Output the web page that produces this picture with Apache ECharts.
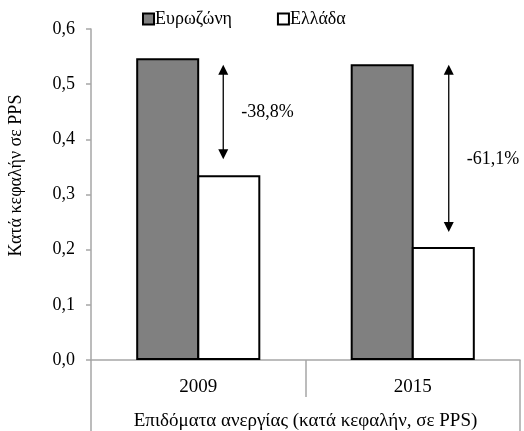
<!DOCTYPE html>
<html>
<head>
<meta charset="utf-8">
<script src="https://cdn.jsdelivr.net/npm/echarts@6/dist/echarts.min.js"></script>
<style>
html,body{margin:0;padding:0;background:#fff;}
#chart{width:524px;height:431px;}
</style>
</head>
<body>
<div id="chart"></div>
<script>
var years = ['2009', '2015'];
var seriesNames = ['Ευρωζώνη', 'Ελλάδα'];
var euroValues = [0.547, 0.536];
var greeceValues = [0.335, 0.205];
var arrowTop = [0.535, 0.535];
var arrowBottom = [0.364, 0.232];
var arrowLabels = ['-38,8%', '-61,1%'];
var yTicks = [0, 0.1, 0.2, 0.3, 0.4, 0.5, 0.6];

var font = 'Liberation Serif';
var fs = 18;
var gray = '#a6a6a6';

// arrow x offset from category centre, px
var arrowShift = [25, 36];

var arrowData = [];
for (var i = 0; i < years.length; i++) {
	arrowData.push([i, arrowTop[i], arrowBottom[i]]);
}

function drawArrow(params, api) {
	var idx = api.value(0);
	var top = api.coord([idx, api.value(1)]);
	var bot = api.coord([idx, api.value(2)]);
	var x = top[0] + arrowShift[params.dataIndex];
	var y1 = top[1], y2 = bot[1];
	var mid = (y1 + y2) / 2 + (params.dataIndex ? 11 : 0);
	var h = 9, w = 5;
	return {
		type: 'group',
		children: [
			{type: 'line', shape: {x1: x, y1: y1 + h, x2: x, y2: y2 - h}, style: {stroke: '#000', lineWidth: 1.3}},
			{type: 'polygon', shape: {points: [[x, y1], [x - w, y1 + h + 1], [x + w, y1 + h + 1]]}, style: {fill: '#000'}},
			{type: 'polygon', shape: {points: [[x, y2], [x - w, y2 - h - 1], [x + w, y2 - h - 1]]}, style: {fill: '#000'}},
			{type: 'text', x: x + 18, y: mid, style: {text: arrowLabels[params.dataIndex], font: fs + 'px "' + font + '"', fill: '#000', verticalAlign: 'middle', align: 'left'}}
		]
	};
}

var chart = echarts.init(document.getElementById('chart'));
var option = {
	animation: false,
	textStyle: {fontFamily: font, color: '#000'},
	legend: {
		top: 5,
		left: 137,
		itemGap: 45,
		itemWidth: 11,
		itemHeight: 11,
		icon: 'rect',
		textStyle: {fontFamily: font, fontSize: fs, color: '#000', padding: [0, 0, 0, -4]},
		data: seriesNames
	},
	grid: {left: 91, right: 4, top: 29, bottom: 71, outerBoundsMode: 'none'},
	xAxis: [{
		type: 'category',
		data: years,
		axisLine: {lineStyle: {color: gray, width: 1.5}},
		axisTick: {show: true, length: 37, interval: 0, lineStyle: {color: gray, width: 1.5}},
		axisLabel: {margin: 18, fontFamily: font, fontSize: 19, color: '#000'},
		name: 'Επιδόματα ανεργίας (κατά κεφαλήν, σε PPS)',
		nameLocation: 'middle',
		nameGap: 52,
		nameTextStyle: {fontFamily: font, fontSize: 19, color: '#000'}
	}, {
		type: 'category',
		position: 'bottom',
		data: [''],
		axisLine: {show: false},
		axisTick: {show: true, length: 72, lineStyle: {color: gray, width: 1.5}},
		axisLabel: {show: false}
	}],
	yAxis: {
		type: 'value',
		min: 0,
		max: 0.6,
		interval: 0.1,
		axisLine: {show: true, lineStyle: {color: gray, width: 1.5}},
		axisTick: {show: true, length: 5, lineStyle: {color: gray, width: 1.5}},
		splitLine: {show: false},
		axisLabel: {
			margin: 16,
			fontFamily: font,
			fontSize: fs,
			color: '#000',
			formatter: function (v) { return v.toFixed(1).replace('.', ','); }
		},
		name: 'Κατά κεφαλήν σε PPS',
		nameLocation: 'middle',
		nameGap: 66,
		nameRotate: 90,
		nameTextStyle: {fontFamily: font, fontSize: fs, color: '#000', padding: [0, 0, 0, 38]}
	},
	series: [{
		name: seriesNames[0],
		type: 'bar',
		data: euroValues,
		barWidth: 63,
		barGap: '-3%',
		itemStyle: {color: '#808080', borderColor: '#000', borderWidth: 2}
	}, {
		name: seriesNames[1],
		type: 'bar',
		data: greeceValues,
		barWidth: 63,
		itemStyle: {color: '#fff', borderColor: '#000', borderWidth: 2}
	}, {
		type: 'custom',
		renderItem: drawArrow,
		data: arrowData,
		z: 5,
		silent: true
	}]
};
chart.setOption(option);
</script>
</body>
</html>
